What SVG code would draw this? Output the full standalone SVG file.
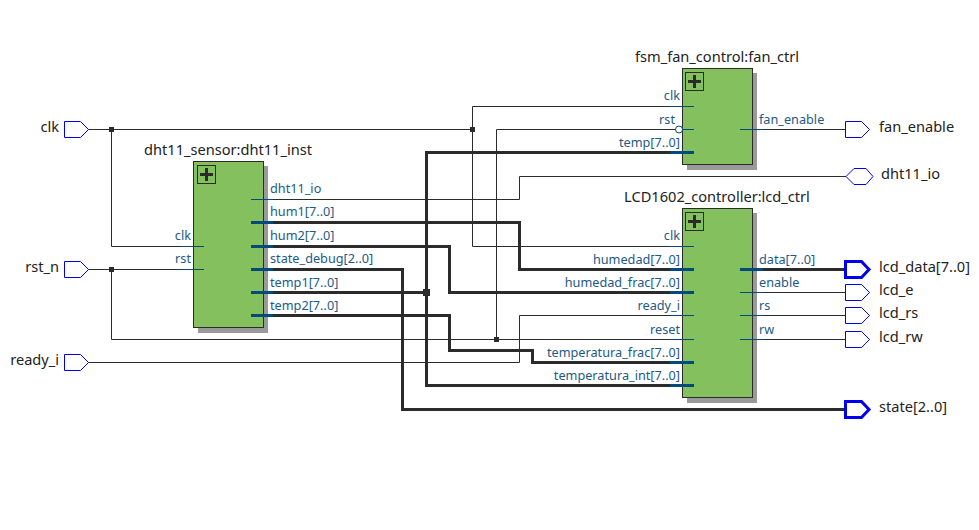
<svg xmlns="http://www.w3.org/2000/svg" width="979" height="530" viewBox="0 0 979 530">
<style>
text{font-family:"Noto Sans","Open Sans","DejaVu Sans",sans-serif;font-size:14.6px;fill:#222}
.p{font-size:12.7px;fill:#1d5a85}
.e{text-anchor:end}
.w{fill:none;stroke:#2b2b2b;stroke-width:1}
.b{fill:none;stroke:#2b2b2b;stroke-width:3}
.s{fill:none;stroke:#004a7c;stroke-width:1}
.t{fill:none;stroke:#004a7c;stroke-width:3}
.j{fill:#2b2b2b}
.pin{fill:#fff;stroke:#0000f0;stroke-width:1}
.pinb{fill:#fff;stroke:#0000f0;stroke-width:3}
.sh{fill:#9a9a9a}
.box{fill:#85c05f;stroke:#2b2b2b;stroke-width:1}
.pl{fill:none;stroke:#2b2b2b;stroke-width:1}
.pp{fill:none;stroke:#2b2b2b;stroke-width:3}
</style>
<defs>
<g id="plus"><rect class="pl" x="0" y="0" width="18" height="18"/><path class="pp" d="M9 2.500V15.500M2.500 9H15.500"/></g>
<path id="in" d="M0 0H16L24 8L16 16H0Z"/>
</defs>
<g id="wires">
<g transform="translate(.5 .5)">
<path class="w" d="M88 129H472M111 129V246H204M472 129V106H694M472 129V246H694"/>
<path class="w" d="M88 269H204M111 269V339H694M496 339V129H676M682 129H694"/>
<path class="w" d="M88 362H519V315H694"/>
<path class="w" d="M251 199H519V176H846"/>
<path class="w" d="M740 129H846M740 292H846M740 315H846M740 339H846"/>
<path class="b" d="M251 222H519V269H694"/>
<path class="b" d="M251 246H449V292H694"/>
<path class="b" d="M251 269H402V409H846"/>
<path class="b" d="M251 292H426M694 152H426V385H694"/>
<path class="b" d="M251 315H449V350H532V362H694"/>
<path class="b" d="M740 269H846"/>
</g>
<rect class="j" x="109" y="127" width="5" height="5"/>
<rect class="j" x="470" y="127" width="5" height="5"/>
<rect class="j" x="109" y="267" width="5" height="5"/>
<rect class="j" x="494" y="337" width="5" height="5"/>
<rect class="j" x="423" y="289" width="7" height="7"/>
</g>
<g id="dht11_inst">
<rect class="sh" x="198" y="166" width="70" height="167"/>
<rect class="box" x="193.500" y="161.500" width="70" height="166"/>
<use href="#plus" x="197.500" y="165.500"/>
<text x="228" y="155" text-anchor="middle">dht11_sensor:dht11_inst</text>
<g transform="translate(0 .5)">
<path class="s" d="M181 246H204M181 269H204M251 199H273"/>
<path class="t" d="M251 222H273M251 246H273M251 269H273M251 292H273M251 315H273"/>
</g>
<text class="p e" x="191" y="240">clk</text>
<text class="p e" x="191" y="263">rst</text>
<text class="p" x="270" y="193">dht11_io</text>
<text class="p" x="270" y="216">hum1[7..0]</text>
<text class="p" x="270" y="240">hum2[7..0]</text>
<text class="p" x="270" y="263">state_debug[2..0]</text>
<text class="p" x="270" y="287">temp1[7..0]</text>
<text class="p" x="270" y="310">temp2[7..0]</text>
</g>
<g id="fan_ctrl">
<rect class="sh" x="687" y="73" width="70" height="97"/>
<rect class="box" x="682.500" y="68.500" width="70" height="96"/>
<use href="#plus" x="685.500" y="72.500"/>
<text x="717" y="62" text-anchor="middle">fsm_fan_control:fan_ctrl</text>
<circle cx="679" cy="129.500" r="3.500" fill="#fff" stroke="#004a7c" stroke-width="1"/>
<g transform="translate(0 .5)">
<path class="s" d="M670 106H694M682 129H694M740 129H763"/>
<path class="t" d="M670 152H694"/>
</g>
<text class="p e" x="680" y="100">clk</text>
<text class="p e" x="675" y="124">rst</text>
<text class="p e" x="680" y="147">temp[7..0]</text>
<text class="p" x="759" y="124">fan_enable</text>
</g>
<g id="lcd_ctrl">
<rect class="sh" x="687" y="213" width="70" height="190"/>
<rect class="box" x="682.500" y="208.500" width="70" height="189"/>
<use href="#plus" x="685.500" y="212.500"/>
<text x="717" y="202" text-anchor="middle">LCD1602_controller:lcd_ctrl</text>
<g transform="translate(0 .5)">
<path class="s" d="M670 246H694M670 315H694M670 339H694M740 292H763M740 315H763M740 339H763"/>
<path class="t" d="M670 269H694M670 292H694M670 362H694M670 385H694M740 269H763"/>
</g>
<text class="p e" x="680" y="240">clk</text>
<text class="p e" x="680" y="264">humedad[7..0]</text>
<text class="p e" x="680" y="287">humedad_frac[7..0]</text>
<text class="p e" x="680" y="310">ready_i</text>
<text class="p e" x="680" y="334">reset</text>
<text class="p e" x="680" y="357">temperatura_frac[7..0]</text>
<text class="p e" x="680" y="380">temperatura_int[7..0]</text>
<text class="p" x="759" y="264">data[7..0]</text>
<text class="p" x="759" y="287">enable</text>
<text class="p" x="759" y="310">rs</text>
<text class="p" x="759" y="334">rw</text>
</g>
<g id="pin_clk"><use href="#in" class="pin" x="64.500" y="121.500"/><text class="e" x="59" y="132">clk</text></g>
<g id="pin_rst_n"><use href="#in" class="pin" x="64.500" y="261.500"/><text class="e" x="59" y="272">rst_n</text></g>
<g id="pin_ready_i"><use href="#in" class="pin" x="64.500" y="354.500"/><text class="e" x="59" y="365">ready_i</text></g>
<g id="pin_fan_enable"><use href="#in" class="pin" x="845.500" y="121.500"/><text x="879" y="132">fan_enable</text></g>
<g id="pin_dht11_io"><path class="pin" d="M846 176.500L854 168.500H866L873 176.500L866 184.500H854Z"/><text x="881" y="179">dht11_io</text></g>
<g id="pin_lcd_data"><path class="pinb" d="M845.500 261.500H861.500L869 269.500L861.500 277.500H845.500Z"/><text x="879" y="272">lcd_data[7..0]</text></g>
<g id="pin_lcd_e"><use href="#in" class="pin" x="845.500" y="284.500"/><text x="879" y="295">lcd_e</text></g>
<g id="pin_lcd_rs"><use href="#in" class="pin" x="845.500" y="307.500"/><text x="879" y="318">lcd_rs</text></g>
<g id="pin_lcd_rw"><use href="#in" class="pin" x="845.500" y="331.500"/><text x="879" y="342">lcd_rw</text></g>
<g id="pin_state"><path class="pinb" d="M845.500 401.500H861.500L869 409.500L861.500 417.500H845.500Z"/><text x="879" y="412">state[2..0]</text></g>
</svg>
